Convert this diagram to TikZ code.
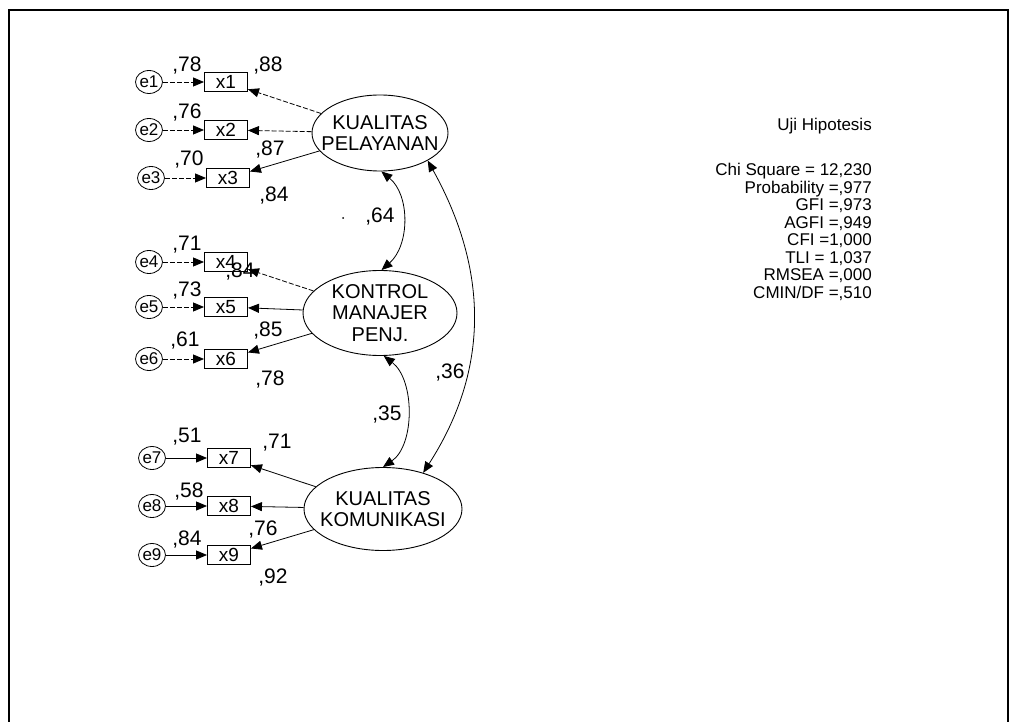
\documentclass[tikz,border=0pt]{standalone}
\usepackage{fontspec}
\setmainfont{Liberation Sans}
\usetikzlibrary{arrows.meta,shapes.geometric}
\begin{document}
\begin{tikzpicture}[x=1pt,y=-1pt,
  every node/.style={inner sep=0pt},
  lat/.style={draw, ellipse, line width=0.9pt},
  lattxt/.style={align=center, font=\fontsize{20}{21.5}\selectfont},
  obs/.style={draw, rectangle, line width=0.9pt, minimum width=43pt, minimum height=19pt, font=\fontsize{19}{19}\selectfont},
  err/.style={draw, ellipse, line width=0.8pt, minimum width=27pt, minimum height=23pt, font=\fontsize{17}{17}\selectfont},
  coef/.style={font=\fontsize{21}{21}\selectfont},
  stattxt/.style={font=\fontsize{17}{17.5}\selectfont, align=right},
  arr/.style={line width=0.8pt, -{Triangle[length=11pt,width=9pt]}},
  darr/.style={arr, dash pattern=on 5pt off 2pt},
  cov/.style={line width=0.8pt, {Triangle[length=11pt,width=9pt]}-{Triangle[length=11pt,width=9pt]}},
]
\useasboundingbox (0,0) rectangle (1015,722);
% frame
\draw[line width=2pt] (9,722) -- (9,10) -- (1008,10) -- (1008,722);

% latent variables
\node[lat, minimum width=136pt, minimum height=76pt] (E1) at (380,133) {};
\node[lattxt] (t1) at (E1) {KUALITAS\\PELAYANAN};
\node[lat, minimum width=154pt, minimum height=85pt] (E2) at (380,313) {};
\node[lattxt] (t2) at (E2) {KONTROL\\MANAJER\\PENJ.};
\node[lat, minimum width=158pt, minimum height=83pt] (E3) at (383,509) {};
\node[lattxt] (t3) at (E3) {KUALITAS\\KOMUNIKASI};

% observed
\node[obs] (x1) at (226,82) {x1};
\node[obs] (x2) at (226,130) {x2};
\node[obs] (x3) at (228,178) {x3};
\node[obs] (x4) at (226,262) {x4};
\node[obs] (x5) at (226,307) {x5};
\node[obs] (x6) at (226,359) {x6};
\node[obs] (x7) at (229,458) {x7};
\node[obs] (x8) at (229,506) {x8};
\node[obs] (x9) at (229,555) {x9};

% errors
\node[err] (e1) at (149,82) {e1};
\node[err] (e2) at (149,130) {e2};
\node[err] (e3) at (151,178) {e3};
\node[err] (e4) at (149,262) {e4};
\node[err] (e5) at (149,307) {e5};
\node[err] (e6) at (149,359) {e6};
\node[err] (e7) at (152,458) {e7};
\node[err] (e8) at (152,506) {e8};
\node[err] (e9) at (152,555) {e9};

% error arrows
\draw[darr] (e1) -- (x1);
\draw[darr] (e2) -- (x2);
\draw[darr] (e3) -- (x3);
\draw[darr] (e4) -- (x4);
\draw[darr] (e5) -- (x5);
\draw[darr] (e6) -- (x6);
\draw[arr] (e7) -- (x7);
\draw[arr] (e8) -- (x8);
\draw[arr] (e9) -- (x9);

% loadings
\draw[darr] (E1) -- (x1);
\draw[darr] (E1) -- (x2);
\draw[arr] (E1) -- (x3);
\draw[darr] (E2) -- (x4);
\draw[arr] (E2) -- (x5);
\draw[arr] (E2) -- (x6);
\draw[arr] (E3) -- (x7);
\draw[arr] (E3) -- (x8);
\draw[arr] (E3) -- (x9);

% covariances
\draw[cov] (E1.-88) .. controls (410,195) and (410,245) .. (E2.88);
\draw[cov] (E2.-85) .. controls (415,380) and (415,445) .. (E3.90);
\draw[cov] (E1.-30) .. controls (505,300) and (470,400) .. (E3.42);

% coefficients
\node[coef] (c1) at (187,66) {,78};
\node[coef] (c2) at (268,66) {,88};
\node[coef] (c3) at (187,113) {,76};
\node[coef] (c4) at (189,160) {,70};
\node[coef] (c5) at (270,150) {,87};
\node[coef] (c6) at (274,196) {,84};
\node[coef] (c7) at (187,245) {,71};
\node[coef] (c8) at (240,272) {,84};
\node[coef] (c9) at (187,291) {,73};
\node[coef] (c10) at (185,341) {,61};
\node[coef] (c11) at (268,331) {,85};
\node[coef] (c12) at (270,380) {,78};
\node[coef] (c13) at (187,437) {,51};
\node[coef] (c14) at (277,443) {,71};
\node[coef] (c15) at (189,492) {,58};
\node[coef] (c16) at (187,540) {,84};
\node[coef] (c17) at (263,530) {,76};
\node[coef] (c18) at (273,578) {,92};
\node[coef] (c19) at (380,217) {,64};
\node[coef] (c20) at (387,415) {,35};
\node[coef] (c21) at (450,373) {,36};
\fill (343,218) circle (1);

% statistics
\node[stattxt, anchor=east] (uji) at (872,126) {Uji Hipotesis};
\node[stattxt, anchor=north east] (st) at (872,163) {Chi Square = 12,230\\Probability =,977\\GFI =,973\\AGFI =,949\\CFI =1,000\\TLI = 1,037\\RMSEA =,000\\CMIN/DF =,510};
\end{tikzpicture}
\end{document}
